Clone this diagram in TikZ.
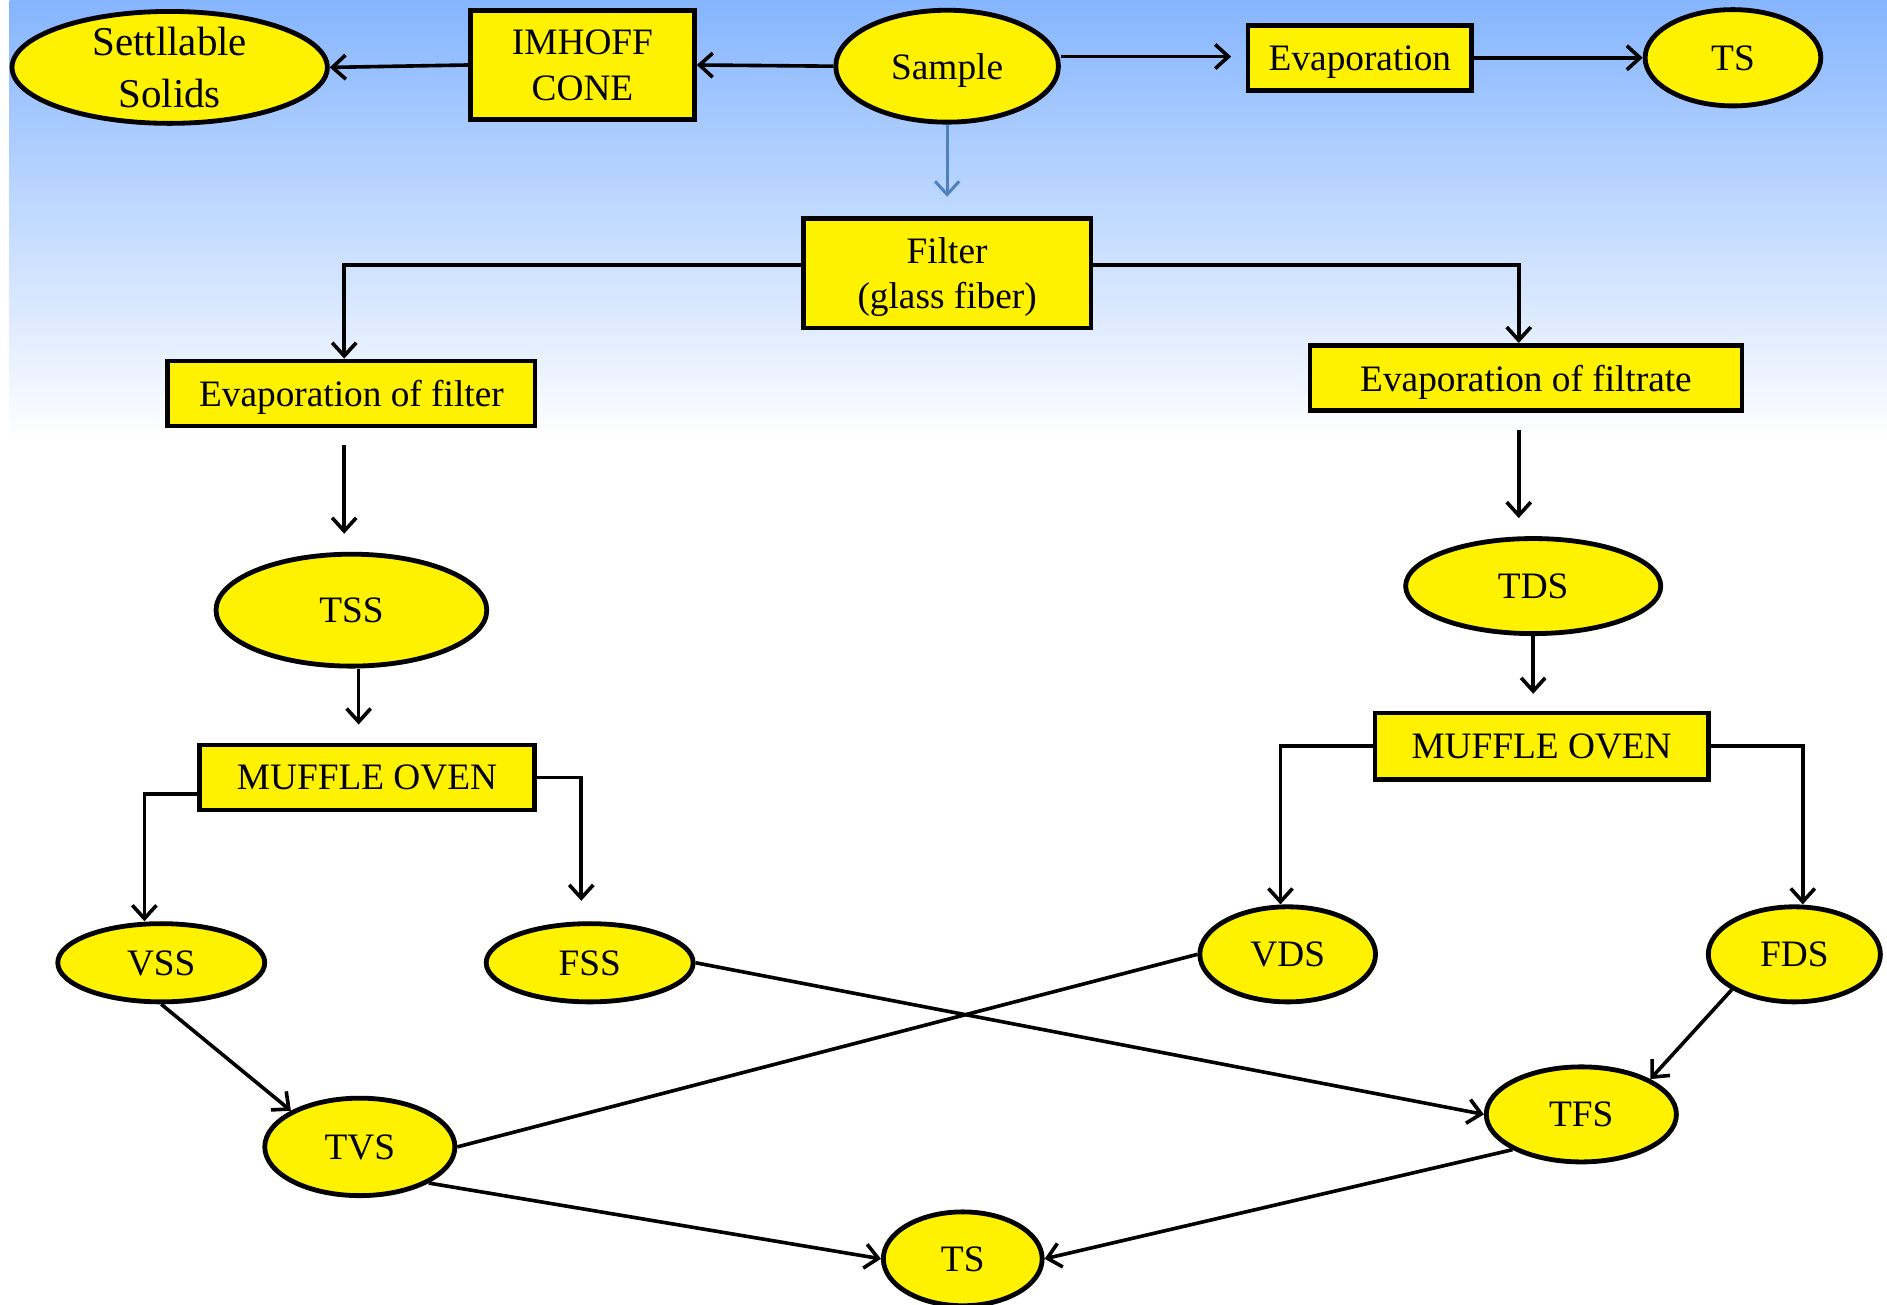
\documentclass[tikz,border=0pt]{standalone}
\usepackage{fontspec}
\setmainfont{Liberation Serif}
\usepackage{xcolor}
\usetikzlibrary{shapes,
	arrows.meta,
	calc}
\definecolor{skytop}{RGB}{133,181,255}
\definecolor{flowblue}{RGB}{79,129,189}
\tikzstyle{blk}=[draw, fill=yellow, rectangle, line width=4pt, inner sep=0,
		text depth=0pt, align=center, font=\fontsize{31}{38}\selectfont]
\tikzstyle{oval}=[draw, fill=yellow, ellipse, line width=4pt, inner sep=0,
		text depth=0pt, align=center, font=\fontsize{31}{38}\selectfont]
\tikzstyle{conn}=[line width=3pt, -{Straight Barb[length=11pt,width=20pt]}]
\tikzstyle{plain}=[line width=3pt]

\begin{document}
\begin{tikzpicture}[x=1pt, y=-1pt]
            \useasboundingbox (0,0) rectangle (1568,1084);
            \fill[white] (0,0) rectangle (1568,1084);
            \fill[top color=skytop, bottom color=white] (8,0) rectangle (1568,365);

            \node[oval, minimum width=262pt, minimum height=93pt, inner sep=-4pt,
                font=\fontsize{34}{43}\selectfont] (settle) at (141,56) {Settllable\\Solids};
            \node[blk, minimum width=186pt, minimum height=91pt] (imhoff) at (484,54) {IMHOFF\\CONE};
            \node[oval, minimum width=185pt, minimum height=93pt] (sample) at (787,55) {Sample};
            \node[blk, minimum width=186pt, minimum height=54pt] (evap) at (1130,48) {Evaporation};
            \node[oval, minimum width=146pt, minimum height=80pt] (tstop) at (1440,48) {TS};
            \node[blk, minimum width=239pt, minimum height=91pt, font=\fontsize{31}{37}\selectfont] (filter) at (787,227) {Filter\\(glass fiber)};
            \node[blk, minimum width=305pt, minimum height=54pt] (evfilt) at (292,327) {Evaporation of filter};
            \node[blk, minimum width=359pt, minimum height=54pt] (evfiltr) at (1268,314) {Evaporation of filtrate};
            \node[oval, minimum width=225pt, minimum height=93pt] (tss) at (292,507) {TSS};
            \node[oval, minimum width=212pt, minimum height=79pt] (tds) at (1274,487) {TDS};
            \node[blk, minimum width=278pt, minimum height=54pt] (mufl) at (305,646) {MUFFLE OVEN};
            \node[blk, minimum width=277pt, minimum height=55pt] (mufr) at (1281,620) {MUFFLE OVEN};
            \node[oval, minimum width=172pt, minimum height=65pt] (vss) at (134,800) {VSS};
            \node[oval, minimum width=172pt, minimum height=65pt] (fss) at (490,800) {FSS};
            \node[oval, minimum width=146pt, minimum height=79pt] (vds) at (1070,793) {VDS};
            \node[oval, minimum width=143pt, minimum height=79pt] (fds) at (1491,793) {FDS};
            \node[oval, minimum width=158pt, minimum height=81pt] (tvs) at (299,953) {TVS};
            \node[oval, minimum width=158pt, minimum height=79pt] (tfs) at (1314,926) {TFS};
            \node[oval, minimum width=132pt, minimum height=78pt] (tsbot) at (800,1046) {TS};

            \draw[conn] (sample.west) -- (imhoff.east);
            \draw[conn] (imhoff.west) -- (settle.east);
            \draw[conn, shorten >=12pt] ([yshift=8pt]sample.east) -- ([yshift=8pt]sample.east -| evap.west);
            \draw[conn] (evap.east) -- (tstop.west);
            \draw[conn, draw=flowblue, line width=2.5pt, shorten >=16pt] (sample.south) -- (filter.north);
            \draw[conn] ([yshift=7pt]filter.west) -| ([xshift=-6pt]evfilt.north);
            \draw[conn] ([yshift=7pt]filter.east) -| ([xshift=-6pt]evfiltr.north);
            \draw[conn, shorten <=14pt, shorten >=15pt] ([xshift=-6pt]evfilt.south) -- ([xshift=-6pt]evfilt.south |- tss.north);
            \draw[conn, shorten <=14pt, shorten >=15pt] ([xshift=-6pt]evfiltr.south) -- ([xshift=-6pt]evfiltr.south |- tds.north);
            \draw[conn, shorten >=15pt] ([xshift=6pt]tss.south) -- ([xshift=6pt]tss.south |- mufl.north);
            \draw[conn, shorten >=14pt] (tds.south) -- (tds.south |- mufr.north);
            \draw[conn] ([yshift=-14pt]mufl.west) -| ([xshift=-14pt]vss.north);
            \draw[conn, shorten >=17pt] (mufl.east) -| ([xshift=-7pt]fss.north);
            \draw[conn] (mufr.west) -| ([xshift=-6pt]vds.north);
            \draw[conn] (mufr.east) -| ([xshift=7pt]fds.north);
            \draw[conn] (vss.south) -- (tvs.north west);
            \draw[conn] (fss.east) -- (tfs.west);
            \draw[plain] (vds.west) -- (tvs.east);
            \draw[conn] (fds.south west) -- (tfs.north east);
            \draw[conn] (tvs.south east) -- (tsbot.west);
            \draw[conn] (tfs.south west) -- (tsbot.east);
        \end{tikzpicture}
\end{document}
